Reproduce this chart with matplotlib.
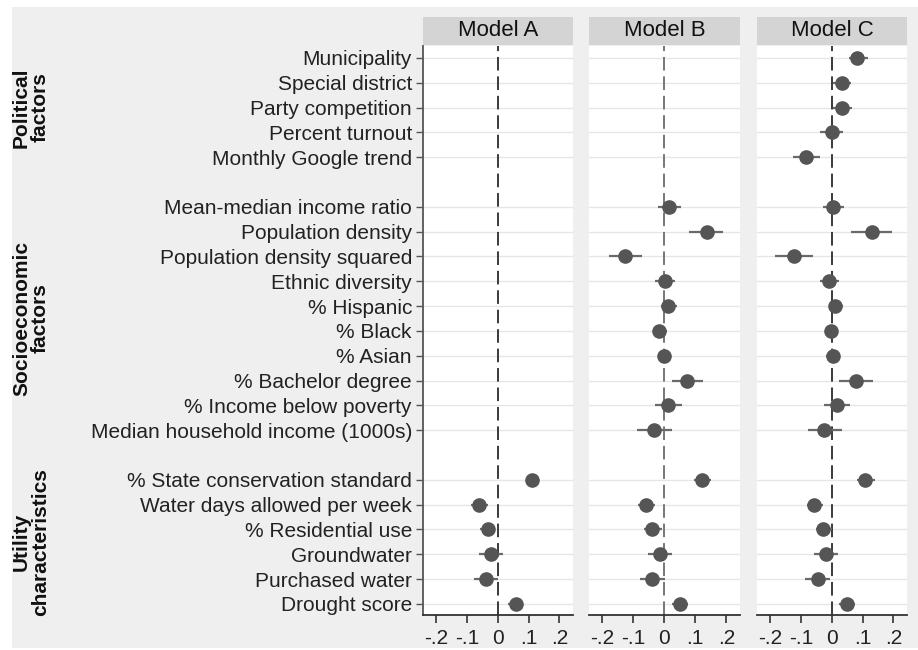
import numpy as np
import matplotlib
matplotlib.use('Agg')
import matplotlib.pyplot as plt
import matplotlib.transforms as mtransforms
from matplotlib.patches import Rectangle

plt.rcParams['font.family'] = ['Liberation Sans', 'DejaVu Sans']

# variables, grouped
political = ["Municipality", "Special district", "Party competition",
             "Percent turnout", "Monthly Google trend"]
socio = ["Mean-median income ratio", "Population density",
         "Population density squared", "Ethnic diversity", "% Hispanic",
         "% Black", "% Asian", "% Bachelor degree", "% Income below poverty",
         "Median household income (1000s)"]
utility = ["% State conservation standard", "Water days allowed per week",
           "% Residential use", "Groundwater", "Purchased water", "Drought score"]
group_names = ["Political\nfactors", "Socioeconomic\nfactors", "Utility\ncharacteristics"]
models = ["Model A", "Model B", "Model C"]

nan = np.nan
# estimates and 95% CI bounds, ordered political + socio + utility
coef_a = [nan, nan, nan, nan, nan,
          nan, nan, nan, nan, nan, nan, nan, nan, nan, nan,
          0.112, -0.060, -0.033, -0.023, -0.037, 0.058]
lo_a = [nan, nan, nan, nan, nan,
        nan, nan, nan, nan, nan, nan, nan, nan, nan, nan,
        0.092, -0.088, -0.057, -0.059, -0.076, 0.034]
hi_a = [nan, nan, nan, nan, nan,
        nan, nan, nan, nan, nan, nan, nan, nan, nan, nan,
        0.133, -0.033, -0.010, 0.016, 0.001, 0.081]

coef_b = [nan, nan, nan, nan, nan,
          0.016, 0.137, -0.125, 0.002, 0.012, -0.017, -0.001, 0.075, 0.013, -0.033,
          0.123, -0.060, -0.038, -0.015, -0.039, 0.051]
lo_b = [nan, nan, nan, nan, nan,
        -0.021, 0.080, -0.178, -0.028, -0.010, -0.035, -0.015, 0.024, -0.028, -0.089,
        0.097, -0.084, -0.064, -0.053, -0.078, 0.026]
hi_b = [nan, nan, nan, nan, nan,
        0.054, 0.190, -0.071, 0.035, 0.040, 0.008, 0.020, 0.126, 0.056, 0.026,
        0.151, -0.028, -0.008, 0.026, 0.002, 0.077]

coef_c = [0.082, 0.034, 0.035, 0.000, -0.082,
          0.005, 0.131, -0.123, -0.008, 0.011, -0.003, 0.003, 0.078, 0.016, -0.025,
          0.107, -0.057, -0.027, -0.018, -0.045, 0.048]
lo_c = [0.055, 0.003, 0.005, -0.037, -0.126,
        -0.029, 0.064, -0.185, -0.037, -0.005, -0.021, -0.018, 0.024, -0.025, -0.078,
        0.082, -0.080, -0.051, -0.057, -0.086, 0.024]
hi_c = [0.117, 0.064, 0.066, 0.037, -0.037,
        0.040, 0.197, -0.061, 0.024, 0.037, 0.018, 0.027, 0.133, 0.059, 0.032,
        0.139, -0.029, 0.000, 0.021, -0.005, 0.075]

results = [(coef_a, lo_a, hi_a), (coef_b, lo_b, hi_b), (coef_c, lo_c, hi_c)]
variables = political + socio + utility

# row positions with a blank row between groups
pos = []
group_pos = []
y = 0
for g in (political, socio, utility):
    start = y
    for _ in g:
        pos.append(y)
        y += 1
    group_pos.append((start + y - 1) / 2)
    y += 1
pos = np.array(pos)

W, H = 918, 650
fig = plt.figure(figsize=(W / 100, H / 100), dpi=100)
fig.patch.set_facecolor('white')
fig.patches.append(Rectangle((12 / W, 2 / H), 1, 1 - 9 / H, transform=fig.transFigure,
                             facecolor='#efefef', edgecolor='none', zorder=-10))

lefts = [423, 589, 757]
widths = [150, 151, 150]
bottom = 1 - 615 / H
top = 1 - 46 / H
zero_cols = ['#3a3a3a', '#777777', '#3a3a3a']

axes = []
for i, (l, w) in enumerate(zip(lefts, widths)):
    ax = fig.add_axes([l / W, bottom, w / W, top - bottom])
    ax.set_facecolor('white')
    coef, lo, hi = [np.array(v, dtype=float) for v in results[i]]
    for p in pos:
        ax.axhline(p, color='#e6e6e6', lw=1.0, zorder=0)
    ax.axvline(0, color=zero_cols[i], lw=1.4, dashes=(7, 3), zorder=1)
    ok = ~np.isnan(coef)
    ax.hlines(pos[ok], lo[ok], hi[ok], color='#6a6a6a', lw=1.6, zorder=2)
    ax.plot(coef[ok], pos[ok], 'o', color='#555555', ms=9.5, zorder=3)
    ax.set_xlim(-0.242, 0.244)
    ax.set_ylim(22.45, -0.48)
    ax.set_xticks([-0.2, -0.1, 0, 0.1, 0.2])
    ax.set_xticklabels(['-.2', '-.1', '0', '.1', '.2'])
    ax.tick_params(axis='x', length=6, width=1.2, color='#333333',
                   labelsize=15, labelcolor='#222222', pad=4)
    for s in ('top', 'right'):
        ax.spines[s].set_visible(False)
    ax.spines['bottom'].set_color('#333333')
    ax.spines['bottom'].set_linewidth(1.3)
    if i == 0:
        ax.set_yticks(pos)
        ax.set_yticklabels(variables)
        ax.tick_params(axis='y', length=5, width=1.0, color='#555555',
                       labelsize=15, labelcolor='#222222', pad=3)
        ax.spines['left'].set_color('#555555')
        ax.spines['left'].set_linewidth(1.3)
    else:
        ax.set_yticks([])
        ax.spines['left'].set_visible(False)
    axes.append(ax)

    # strip header
    sax = fig.add_axes([l / W, 1 - 45 / H, w / W, 28 / H])
    sax.set_facecolor('#d4d4d4')
    sax.set_xticks([])
    sax.set_yticks([])
    for s in sax.spines.values():
        s.set_visible(False)
    sax.text(0.5, 0.5, models[i], ha='center', va='center', fontsize=16,
             color='#111111', transform=sax.transAxes)

trans = mtransforms.blended_transform_factory(fig.transFigure, axes[0].transData)
for name, gp in zip(group_names, group_pos):
    axes[0].text(31 / W, gp, name, transform=trans, rotation=90, ha='center',
                 va='center', multialignment='center', fontsize=15,
                 fontweight='bold', color='#111111', linespacing=1.0)

fig.savefig('out.png', dpi=100, facecolor=fig.get_facecolor())
